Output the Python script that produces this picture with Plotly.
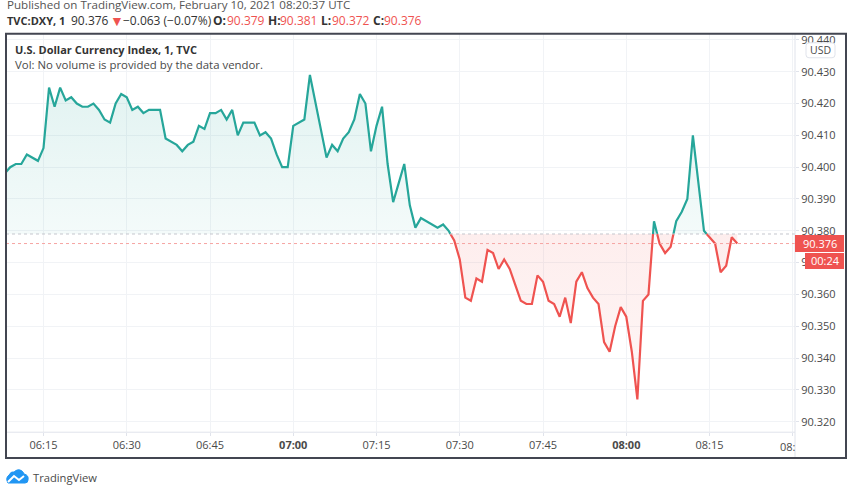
import pandas as pd
import plotly.graph_objects as go

W, H = 852, 485
FONT = "Open Sans"
GREEN = "#26a69a"
RED = "#ef5350"
TEXT = "#4a4a4a"
GRID = "#f1f3f6"
AXIS = "#e0e3eb"

# one minute closes, 06:08 to 08:20
values = [
    90.398, 90.400, 90.401, 90.401, 90.404, 90.403, 90.402, 90.406,
    90.425, 90.419, 90.425, 90.421, 90.422, 90.420, 90.419, 90.419, 90.420, 90.418,
    90.415, 90.414, 90.420, 90.423, 90.422, 90.418, 90.419, 90.417, 90.418, 90.418,
    90.418, 90.409, 90.408, 90.407, 90.405, 90.407, 90.408, 90.413, 90.412, 90.417,
    90.417, 90.418, 90.415, 90.418, 90.410, 90.414, 90.414, 90.414, 90.410, 90.411,
    90.409, 90.404, 90.400, 90.400, 90.413, 90.414, 90.415, 90.429, 90.420, 90.411,
    90.403, 90.407, 90.405, 90.409, 90.411, 90.415, 90.423, 90.420, 90.405, 90.413,
    90.419, 90.401, 90.389, 90.395, 90.401, 90.388, 90.381, 90.384, 90.383,
    90.382, 90.381, 90.382, 90.380, 90.377, 90.371, 90.359, 90.358, 90.365, 90.364,
    90.374, 90.373, 90.368, 90.371, 90.368, 90.363, 90.358, 90.357, 90.357, 90.366,
    90.364, 90.358, 90.357, 90.353, 90.359, 90.351, 90.364, 90.367, 90.362, 90.359,
    90.357, 90.345, 90.342, 90.350, 90.356, 90.353, 90.342, 90.327, 90.358, 90.360,
    90.383, 90.376, 90.373, 90.375, 90.383, 90.386, 90.390, 90.410, 90.395, 90.380,
    90.378, 90.376, 90.367, 90.369, 90.378, 90.376,
]
times = pd.date_range("2021-02-10 06:08", periods=len(values), freq="min")

base_value = 90.379
last_value = 90.376

y_ticks = [90.32, 90.33, 90.34, 90.35, 90.36, 90.37, 90.38, 90.39, 90.40, 90.41, 90.42, 90.43, 90.44]
x_ticks = ["06:15", "06:30", "06:45", "07:00", "07:15", "07:30", "07:45", "08:00", "08:15", "08:30"]
x_labels = ["06:15", "06:30", "06:45", "<b>07:00</b>", "07:15", "07:30", "07:45", "<b>08:00</b>", "08:15", ""]


def px(x):
    return x / W


def py(y):
    return 1 - y / H


def split_runs(xs, ys, base):
    """Break the line into runs above and below the base value"""
    above, below = [], []
    run = [(xs[0], ys[0])]
    for i in range(1, len(ys)):
        if (ys[i - 1] >= base) != (ys[i] >= base):
            frac = (base - ys[i - 1]) / (ys[i] - ys[i - 1])
            cross = (xs[i - 1] + (xs[i] - xs[i - 1]) * frac).floor("s")
            run.append((cross, base))
            (above if ys[i - 1] >= base else below).append(run)
            run = [(cross, base)]
        run.append((xs[i], ys[i]))
    (above if ys[-1] >= base else below).append(run)
    return above, below


def side_traces(runs, base, color, gradient):
    line_x, line_y, fill_x, fill_y = [], [], [], []
    for run in runs:
        rx = [p[0] for p in run]
        ry = [p[1] for p in run]
        line_x += rx + [None]
        line_y += ry + [None]
        fill_x += rx + [rx[-1], rx[0], rx[0], None]
        fill_y += ry + [base, base, ry[0], None]
    return [
        go.Scatter(x=fill_x, y=fill_y, mode="none", fill="toself", fillgradient=gradient,
                   hoverinfo="skip", showlegend=False),
        go.Scatter(x=line_x, y=line_y, mode="lines", line=dict(color=color, width=2.2),
                   connectgaps=False, showlegend=False),
    ]


above, below = split_runs(list(times), values, base_value)

fig = go.Figure()
green_fill = dict(type="vertical", start=90.429, stop=base_value,
                  colorscale=[[0, "rgba(38,166,154,0.14)"], [1, "rgba(38,166,154,0.05)"]])
red_fill = dict(type="vertical", start=base_value, stop=90.327,
                colorscale=[[0, "rgba(239,83,80,0.10)"], [1, "rgba(239,83,80,0.05)"]])
for tr in side_traces(above, base_value, GREEN, green_fill):
    fig.add_trace(tr)
for tr in side_traces(below, base_value, RED, red_fill):
    fig.add_trace(tr)

shapes = [
    # base and last price lines
    dict(type="line", xref="paper", yref="y", x0=px(6), x1=px(795), y0=base_value, y1=base_value,
         line=dict(color="#c4c6cd", width=1, dash="dot")),
    dict(type="line", xref="paper", yref="y", x0=px(6), x1=px(795), y0=last_value, y1=last_value,
         line=dict(color="#f6a5a3", width=1, dash="dot")),
    # pane separators
    dict(type="line", xref="paper", yref="paper", x0=px(6), x1=px(795), y0=py(432), y1=py(432),
         line=dict(color=AXIS, width=1)),
    dict(type="line", xref="paper", yref="paper", x0=px(795), x1=px(795), y0=py(32), y1=py(458),
         line=dict(color=AXIS, width=1)),
    # outer frame
    dict(type="rect", xref="paper", yref="paper", x0=px(6), x1=px(846), y0=py(32), y1=py(458),
         line=dict(color="#434651", width=2)),
    # price tags
    dict(type="rect", xref="paper", yref="paper", x0=px(795), x1=px(844), y0=py(234), y1=py(251),
         fillcolor=RED, line=dict(width=0)),
    dict(type="rect", xref="paper", yref="paper", x0=px(805), x1=px(844), y0=py(252), y1=py(268),
         fillcolor=RED, line=dict(width=0)),
]

# USD box, rounded
x0, x1, y0, y1 = px(806), px(835), py(41), py(56)
rx, ry = 3 / W, 3 / H
shapes.append(dict(
    type="path", xref="paper", yref="paper", fillcolor="white", line=dict(color=AXIS, width=1),
    path=(f"M {x0 + rx} {y0} L {x1 - rx} {y0} Q {x1} {y0} {x1} {y0 - ry} L {x1} {y1 + ry} "
          f"Q {x1} {y1} {x1 - rx} {y1} L {x0 + rx} {y1} Q {x0} {y1} {x0} {y1 + ry} "
          f"L {x0} {y0 - ry} Q {x0} {y0} {x0 + rx} {y0} Z"),
))


def pt(x, y):
    return f"{px(x)} {py(y)}"


# TradingView cloud mark
shapes.append(dict(
    type="path", xref="paper", yref="paper", fillcolor="#2196f3", line=dict(color="#2196f3", width=1),
    path=(f"M {pt(8, 483)} Q {pt(5, 478)} {pt(9, 475)} Q {pt(11, 471)} {pt(14, 472)} "
          f"Q {pt(18, 468)} {pt(22, 471)} Q {pt(24, 473)} {pt(24, 474)} "
          f"Q {pt(29, 475)} {pt(28, 480)} Q {pt(28, 483)} {pt(25, 483)} Z"),
))
zigzag = [(8, 482), (14, 476), (19, 480), (24, 476)]
shapes.append(dict(
    type="path", xref="paper", yref="paper", line=dict(color="white", width=2),
    path="M " + " L ".join(pt(a, b) for a, b in zigzag),
))


def label(x, y, text, size=12, color=TEXT, anchor="left"):
    return dict(xref="paper", yref="paper", x=px(x), y=py(y), text=text, showarrow=False,
                xanchor=anchor, yanchor="middle", align="left", borderpad=0,
                font=dict(family=FONT, size=size, color=color))


INK = "#333333"
annotations = [
    label(6, 3, "Published on TradingView.com, February 10, 2021 08:20:37 UTC", 11.6, "#555555"),
    label(6, 19, "<b>TVC:DXY, 1</b>", 11, INK),
    label(70, 19, "90.376", 12, INK),
    label(109, 19, "▼", 14, RED),
    label(122, 19, "−0.063 (−0.07%)", 12, INK),
    label(212, 19, "<b>O:</b>", 12, INK),
    label(226, 19, "90.379", 12, RED),
    label(267, 19, "<b>H:</b>", 12, INK),
    label(279, 19, "90.381", 12, RED),
    label(320, 19, "<b>L:</b>", 12, INK),
    label(331, 19, "90.372", 12, RED),
    label(372, 19, "<b>C:</b>", 12, INK),
    label(383, 19, "90.376", 12, RED),
    label(14, 48, "<b>U.S. Dollar Currency Index, 1, TVC</b>", 11, INK),
    label(14, 63, "Vol: No volume is provided by the data vendor.", 11.4),
    label(820.5, 48.5, "USD", 10.5, anchor="center"),
    label(820, 242.5, "90.376", 11, "white", anchor="center"),
    label(825, 260, "00:24", 11, "white", anchor="center"),
    label(779, 446, "08:", 11),
    label(32, 477, "TradingView", 11.2),
]

fig.update_layout(
    width=W, height=H,
    margin=dict(l=0, r=0, t=0, b=0),
    paper_bgcolor="white", plot_bgcolor="white",
    showlegend=False,
    shapes=shapes,
    annotations=annotations,
    xaxis=dict(
        type="date",
        domain=[px(6), px(795)],
        range=["2021-02-10 06:08:14.6", "2021-02-10 08:30:24"],
        tickvals=[f"2021-02-10 {t}" for t in x_ticks],
        ticktext=x_labels,
        tickfont=dict(family=FONT, size=11, color=TEXT),
        ticks="outside", ticklen=3, tickcolor=AXIS,
        showgrid=True, gridcolor=GRID, zeroline=False,
    ),
    yaxis=dict(
        domain=[py(432), py(32)],
        range=[90.3167, 90.4419],
        side="right",
        tickvals=y_ticks,
        ticktext=[f"{v:.3f}" for v in y_ticks],
        tickfont=dict(family=FONT, size=11, color=TEXT),
        ticks="outside", ticklen=3, tickcolor=AXIS,
        showgrid=True, gridcolor=GRID, zeroline=False,
    ),
)

# page margin off so the picture sits at 0,0
fig.write_html("out.html", config=dict(displayModeBar=False),
               post_script="document.body.style.margin='0';")
